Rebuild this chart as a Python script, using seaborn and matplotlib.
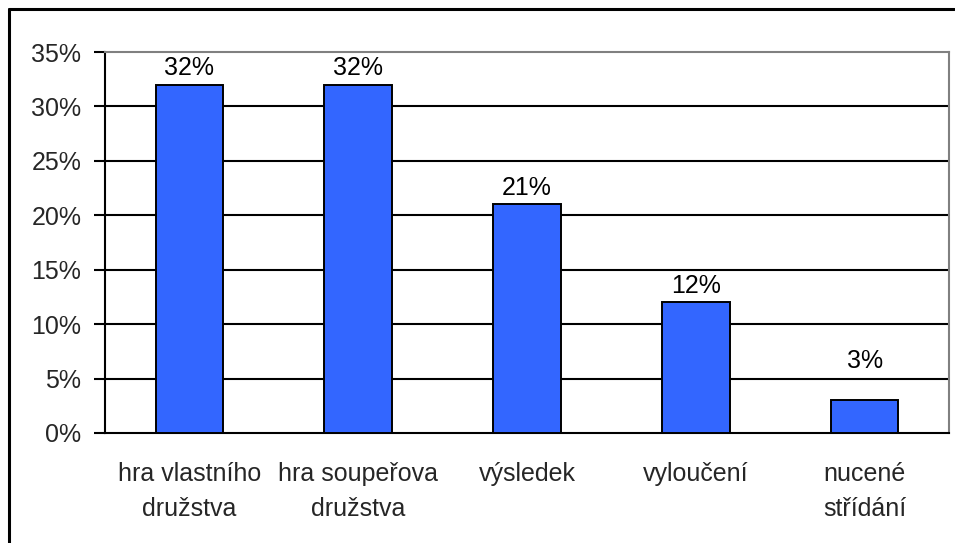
import pandas as pd
import matplotlib
matplotlib.use("Agg")
import matplotlib.pyplot as plt
import seaborn as sns
from matplotlib.lines import Line2D

# Data
categories = ["hra vlastního\ndružstva", "hra soupeřova\ndružstva", "výsledek",
              "vyloučení", "nucené\nstřídání"]
values = [32, 32, 21, 12, 3]
y_ticks = [0, 5, 10, 15, 20, 25, 30, 35]

# label offsets above bars (points); the small bar's label sits higher in the original
label_offsets = [3, 3, 3, 3, 20]

df = pd.DataFrame({"kategorie": categories, "podil": values})

sns.set_style("white")
plt.rcParams['font.family'] = ['Liberation Sans', 'DejaVu Sans']
FS = 18

fig = plt.figure(figsize=(9.55, 5.43), dpi=100)
ax = fig.add_axes([105 / 955, 1 - 433 / 543, (949 - 105) / 955, (433 - 52) / 543])

sns.barplot(data=df, x="kategorie", y="podil", color="#3366FF", width=0.4,
            edgecolor="black", linewidth=1.4, saturation=1, ax=ax, zorder=3)

# value labels above bars
for i, v in enumerate(values):
    ax.annotate(f"{v}%", (i, v), xytext=(0, label_offsets[i]), textcoords="offset points",
                ha="center", va="bottom", fontsize=FS, color="black")

ax.set_ylim(0, 35)
ax.set_xlim(-0.5, len(categories) - 0.5)
ax.set_yticks(y_ticks)
ax.set_yticklabels([f"{t}%" for t in y_ticks], fontsize=FS)
ax.set_xticks(range(len(categories)))
ax.set_xticklabels(categories, fontsize=FS, linespacing=1.55)
ax.set_xticks([i - 0.5 for i in range(len(categories) + 1)], minor=True)
ax.tick_params(axis="x", which="major", length=0, pad=21)
ax.tick_params(axis="x", which="minor", length=8, width=1.5, direction="out", color="black")
ax.tick_params(axis="y", length=8, width=1.5, direction="out", color="black", pad=9, left=True)
ax.set_xlabel("")
ax.set_ylabel("")

# gridlines
for t in y_ticks[1:-1]:
    ax.axhline(t, color="black", linewidth=1.5, zorder=1)

for s in ["left", "bottom"]:
    ax.spines[s].set_color("black")
    ax.spines[s].set_linewidth(1.5)
for s in ["top", "right"]:
    ax.spines[s].set_color("#808080")
    ax.spines[s].set_linewidth(1.5)

# outer chart frame (only left and top visible)
fig.add_artist(Line2D([8.5 / 955, 8.5 / 955], [0, 1 - 8.5 / 543], transform=fig.transFigure,
                      color="black", linewidth=2.2))
fig.add_artist(Line2D([8.5 / 955, 954 / 955], [1 - 8.5 / 543, 1 - 8.5 / 543],
                      transform=fig.transFigure, color="black", linewidth=2.2))

fig.savefig("out.png", dpi=100)
